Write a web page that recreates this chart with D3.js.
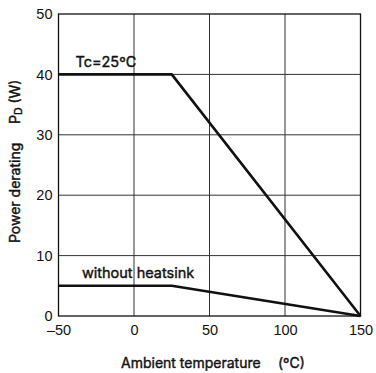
<!DOCTYPE html>
<html>
<head>
<meta charset="utf-8">
<script src="https://cdn.jsdelivr.net/npm/d3@7"></script>
<style>
  body { margin: 0; background: #fff; }
  text { font-family: Inter, "Liberation Sans", Arial, sans-serif; fill: #111; }
  text.medium { stroke: #111; stroke-width: 0.4px; }
</style>
</head>
<body>
<svg id="chart" width="376" height="373"></svg>
<script>
// derating curves: ambient temperature (ºC) vs power (W)
var xTicks = [-50, 0, 50, 100, 150];
var yTicks = [0, 10, 20, 30, 40, 50];
var tcTemp = [-50, 25, 150];
var tcPower = [40, 40, 0];
var noSinkTemp = [-50, 25, 150];
var noSinkPower = [5, 5, 0];

var svg = d3.select("#chart"),
	margin = {left: 58.5, top: 14, right: 15.5, bottom: 57},
	width = +svg.attr("width") - margin.left - margin.right,
	height = +svg.attr("height") - margin.top - margin.bottom,
	g = svg.append("g")
		.attr("transform", "translate(" + margin.left + "," + margin.top + ")");

var x = d3.scaleLinear().domain([-50, 150]).range([0, width]);
var y = d3.scaleLinear().domain([0, 50]).range([height, 0]);

// grid
g.append("g")
	.selectAll("line")
	.data(xTicks.slice(1, -1))
	.enter().append("line")
		.attr("x1", function(d) { return x(d); })
		.attr("x2", function(d) { return x(d); })
		.attr("y1", 0)
		.attr("y2", height)
		.attr("stroke", "#333")
		.attr("stroke-width", 1);

g.append("g")
	.selectAll("line")
	.data(yTicks.slice(1, -1))
	.enter().append("line")
		.attr("x1", 0)
		.attr("x2", width)
		.attr("y1", function(d) { return y(d); })
		.attr("y2", function(d) { return y(d); })
		.attr("stroke", "#333")
		.attr("stroke-width", 1);

// axes (labels only, frame drawn separately)
var xAxis = g.append("g")
	.attr("transform", "translate(0," + height + ")")
	.call(d3.axisBottom(x).tickValues(xTicks).tickSize(0).tickPadding(9)
		.tickFormat(function(d) { return d < 0 ? "\u2013" + (-d) : d; }));
var yAxis = g.append("g")
	.call(d3.axisLeft(y).tickValues(yTicks).tickSize(0).tickPadding(6));
[xAxis, yAxis].forEach(function(a) {
	a.select(".domain").remove();
	a.selectAll("text")
		.style("font-family", "\"Liberation Sans\", Arial, sans-serif")
		.style("font-size", "14.5px")
		.attr("fill", "#111");
});

// frame
g.append("rect")
	.attr("width", width)
	.attr("height", height)
	.attr("fill", "none")
	.attr("stroke", "#111")
	.attr("stroke-width", 1.3);

// curves
var line = d3.line()
	.x(function(d) { return x(d[0]); })
	.y(function(d) { return y(d[1]); });

[[tcTemp, tcPower], [noSinkTemp, noSinkPower]].forEach(function(s) {
	g.append("path")
		.datum(d3.zip(s[0], s[1]))
		.attr("d", line)
		.attr("fill", "none")
		.attr("stroke", "#111")
		.attr("stroke-width", 2.6)
		.attr("stroke-linejoin", "round");
});

// curve labels
g.append("text")
	.attr("class", "medium")
	.attr("x", x(-38.8))
	.attr("y", y(40) - 7.5)
	.style("font-size", "14.5px")
	.text("Tc=25\u00baC");
g.append("text")
	.attr("class", "medium")
	.attr("x", x(-34.5))
	.attr("y", y(5) - 8)
	.style("font-size", "14.5px")
	.text("without heatsink");

// axis titles
svg.append("text")
	.attr("class", "medium")
	.attr("x", 121)
	.attr("y", 368)
	.style("font-size", "14px")
	.text("Ambient temperature");
svg.append("text")
	.attr("class", "medium")
	.attr("x", 278)
	.attr("y", 368)
	.style("font-size", "14px")
	.text("(\u00baC)");

svg.append("text")
	.attr("class", "medium")
	.attr("transform", "translate(20,243) rotate(-90)")
	.style("font-size", "14px")
	.text("Power derating");
var pd = svg.append("text")
	.attr("class", "medium")
	.attr("transform", "translate(20,124) rotate(-90)")
	.style("font-size", "14px");
pd.append("tspan").text("P");
pd.append("tspan").attr("dy", 1.5).style("font-size", "10.5px").text("D");
pd.append("tspan").attr("dy", -1.5).text(" (W)");
</script>
</body>
</html>
